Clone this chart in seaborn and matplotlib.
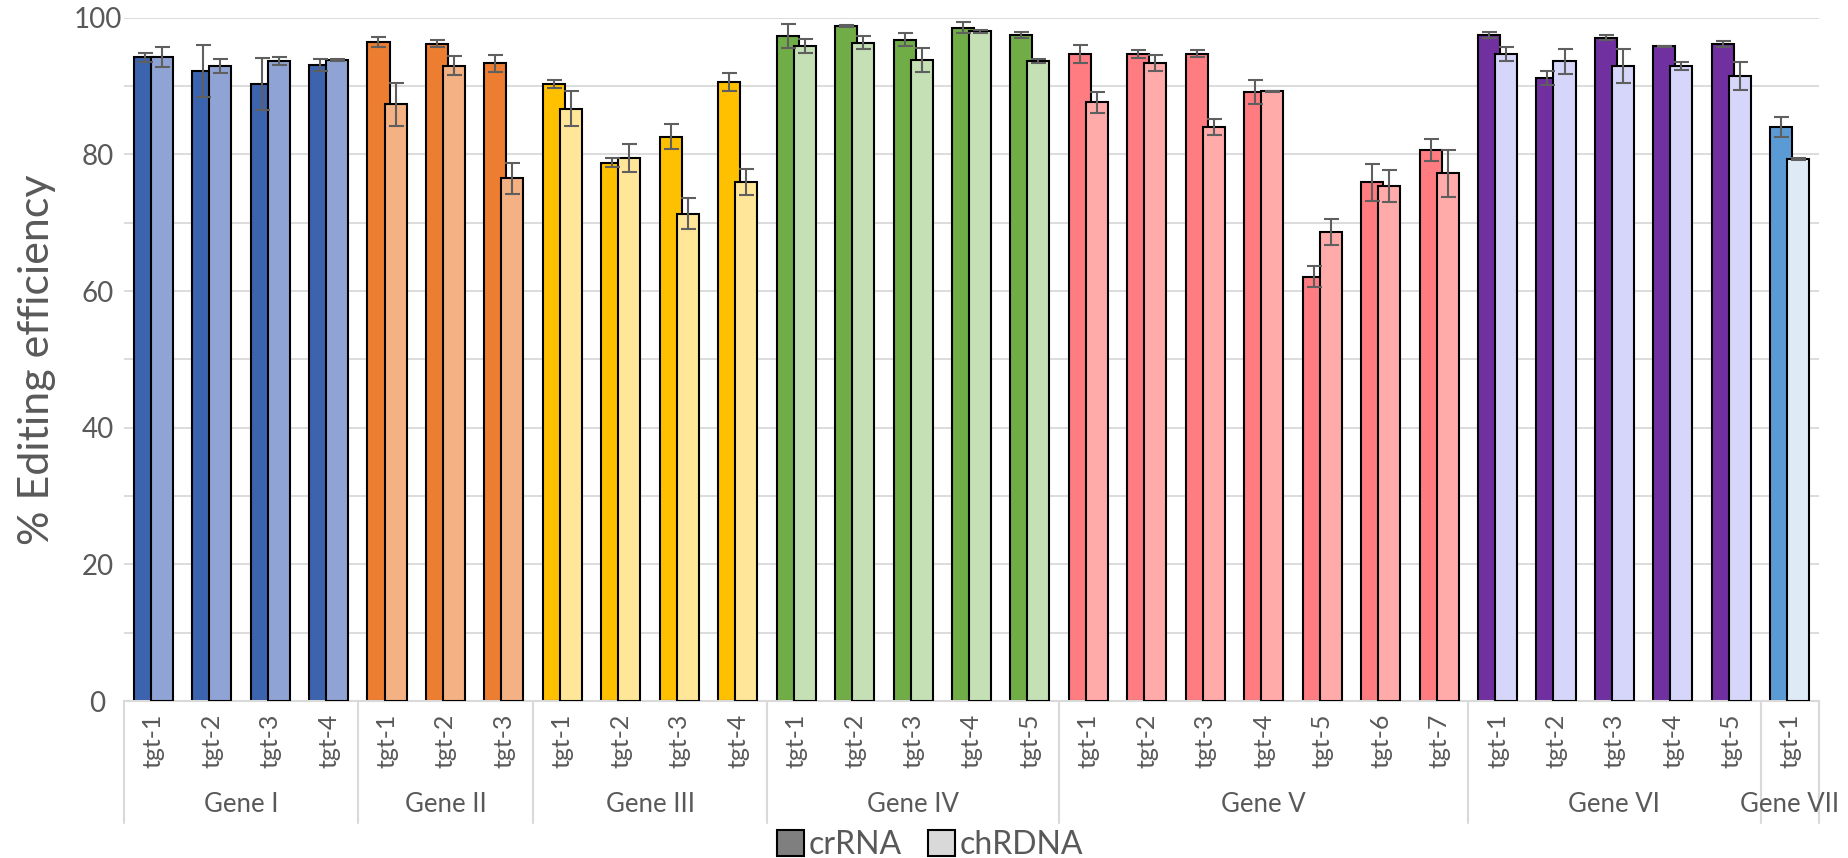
import numpy as np
import pandas as pd
import matplotlib
matplotlib.use("Agg")
import matplotlib.pyplot as plt
import matplotlib.transforms as mtransforms
from matplotlib.patches import Patch, Rectangle
import seaborn as sns

# 유전자별 타깃 수
genes = ["Gene I", "Gene II", "Gene III", "Gene IV", "Gene V", "Gene VI", "Gene VII"]
n_targets = [4, 3, 4, 5, 7, 5, 1]

# crRNA 편집 효율 (%)
crrna = [94.2, 92.2, 90.3, 93.1,
         96.4, 96.2, 93.3,
         90.3, 78.8, 82.6, 90.6,
         97.3, 98.8, 96.8, 98.5, 97.5,
         94.7, 94.7, 94.7, 89.1, 62.1, 75.9, 80.6,
         97.5, 91.2, 97.1, 95.8, 96.1,
         84.0]
crrna_err = [0.7, 3.85, 3.75, 0.85,
             0.73, 0.56, 1.2,
             0.65, 0.6, 1.83, 1.27,
             1.78, 0.15, 0.93, 0.8, 0.4,
             1.3, 0.56, 0.5, 1.8, 1.56, 2.7, 1.6,
             0.4, 1.05, 0.35, 0.1, 0.45,
             1.46]

# chRDNA 편집 효율 (%)
chrdna = [94.2, 92.9, 93.7, 93.8,
          87.3, 93.0, 76.5,
          86.7, 79.5, 71.3, 76.0,
          95.9, 96.3, 93.8, 98.0, 93.6,
          87.6, 93.3, 84.0, 89.2, 68.6, 75.4, 77.2,
          94.7, 93.6, 92.9, 92.9, 91.5,
          79.3]
chrdna_err = [1.46, 1.05, 0.6, 0.15,
              3.2, 1.4, 2.25,
              2.6, 2.05, 2.27, 1.88,
              1.0, 0.95, 1.8, 0.2, 0.3,
              1.5, 1.17, 1.2, 0.1, 1.9, 2.3, 3.5,
              1.0, 1.85, 2.5, 0.55, 2.05,
              0.15]

# 색상 (진한색 = crRNA, 연한색 = chRDNA)
cr_colors = ["#3C64AE", "#ED7D31", "#FFC000", "#70AD47", "#FF7C80", "#7030A0", "#5B9BD5"]
ch_colors = ["#8FA4D4", "#F4B183", "#FFE699", "#C5E0B4", "#FFABAA", "#D6D6FA", "#DEEBF7"]

gene_col = [g for g, n in zip(genes, n_targets) for _ in range(n)]
tgt_labels = [f"tgt-{i + 1}" for n in n_targets for i in range(n)]
pos = np.arange(len(gene_col))

TXT = "#595959"
GRID = "#D9D9D9"
FONT = ["Lato", "DejaVu Sans"]

sns.set_theme(style="white")
plt.rcParams["font.family"] = FONT

fig = plt.figure(figsize=(18.49, 8.58), dpi=100)
ax = fig.add_axes([124 / 1849, 1 - 701 / 858, 1695 / 1849, (701 - 17.7) / 858])

off = 0.146
w = 0.377
df_cr = pd.DataFrame({"x": pos - off, "value": crrna, "gene": gene_col})
df_ch = pd.DataFrame({"x": pos + off, "value": chrdna, "gene": gene_col})

sns.barplot(data=df_cr, x="x", y="value", hue="gene", hue_order=genes,
            palette=cr_colors, saturation=1, dodge=False, native_scale=True, width=w,
            edgecolor="black", linewidth=1.5, errorbar=None, legend=False, ax=ax)
sns.barplot(data=df_ch, x="x", y="value", hue="gene", hue_order=genes,
            palette=ch_colors, saturation=1, dodge=False, native_scale=True, width=w,
            edgecolor="black", linewidth=1.5, errorbar=None, legend=False, ax=ax)

# 막대 색을 위치 기준으로 다시 지정 (그룹 색 정확히 맞추기)
gene_idx = [genes.index(g) for g in gene_col]
for p in ax.patches:
    if not isinstance(p, Rectangle):
        continue
    cx = p.get_x() + p.get_width() / 2
    k = int(round(cx))
    if 0 <= k < len(pos):
        cols = cr_colors if cx < k else ch_colors
        p.set_facecolor(cols[gene_idx[k]])
        p.set_zorder(2 if cx < k else 3)

for xs, ys, es in [(pos - off, crrna, crrna_err), (pos + off, chrdna, chrdna_err)]:
    ax.errorbar(xs, ys, yerr=es, fmt="none", ecolor="#5F5F5F", elinewidth=1.5,
                capsize=5.4, capthick=1.5, zorder=6)

# 축 설정
ax.set_xlim(-0.5, len(pos) - 0.5)
ax.set_ylim(0, 100)
ax.set_yticks(np.arange(0, 101, 20))
ax.set_yticks(np.arange(10, 100, 20), minor=True)
ax.grid(True, which="both", axis="y", color=GRID, linewidth=1.3)
ax.set_axisbelow(True)
for s in ["top", "left", "right"]:
    ax.spines[s].set_visible(False)
ax.spines["bottom"].set_color(GRID)
ax.spines["bottom"].set_linewidth(1.5)

ax.tick_params(axis="y", which="both", length=0, labelsize=20, labelcolor=TXT, pad=19)
for lbl in ax.get_yticklabels():
    lbl.set_ha("center")

ax.set_xticks(pos)
ax.set_xticklabels(tgt_labels, rotation=90, fontsize=18, color=TXT)
ax.tick_params(axis="x", length=0, pad=9)
ax.set_xlabel("")
ax.set_ylabel("% Editing efficiency", fontsize=31, color=TXT)
ax.yaxis.set_label_coords(-0.040, 0.5)

# 유전자 그룹 구분선과 라벨
trans = mtransforms.blended_transform_factory(ax.transData, ax.transAxes)
bounds = np.concatenate([[0], np.cumsum(n_targets)]) - 0.5
for b in bounds:
    ax.plot([b, b], [0, -0.179], transform=trans, color=GRID, linewidth=1.5, clip_on=False)
for g, lo, hi in zip(genes, bounds[:-1], bounds[1:]):
    ax.text((lo + hi) / 2, -0.151, g, transform=trans, ha="center", va="center",
            fontsize=18.5, color=TXT)

handles = [Patch(facecolor="#7F7F7F", edgecolor="black", linewidth=1.5, label="crRNA"),
           Patch(facecolor="#D9D9D9", edgecolor="black", linewidth=1.5, label="chRDNA")]
leg = fig.legend(handles=handles, loc="lower center", bbox_to_anchor=(0.503, -0.006), ncol=2,
                 frameon=False, fontsize=23, handlelength=0.85, handleheight=0.85,
                 handletextpad=0.15, columnspacing=0.8, borderaxespad=0, borderpad=0.1)
for t in leg.get_texts():
    t.set_color(TXT)

fig.savefig("out.png", dpi=100)
